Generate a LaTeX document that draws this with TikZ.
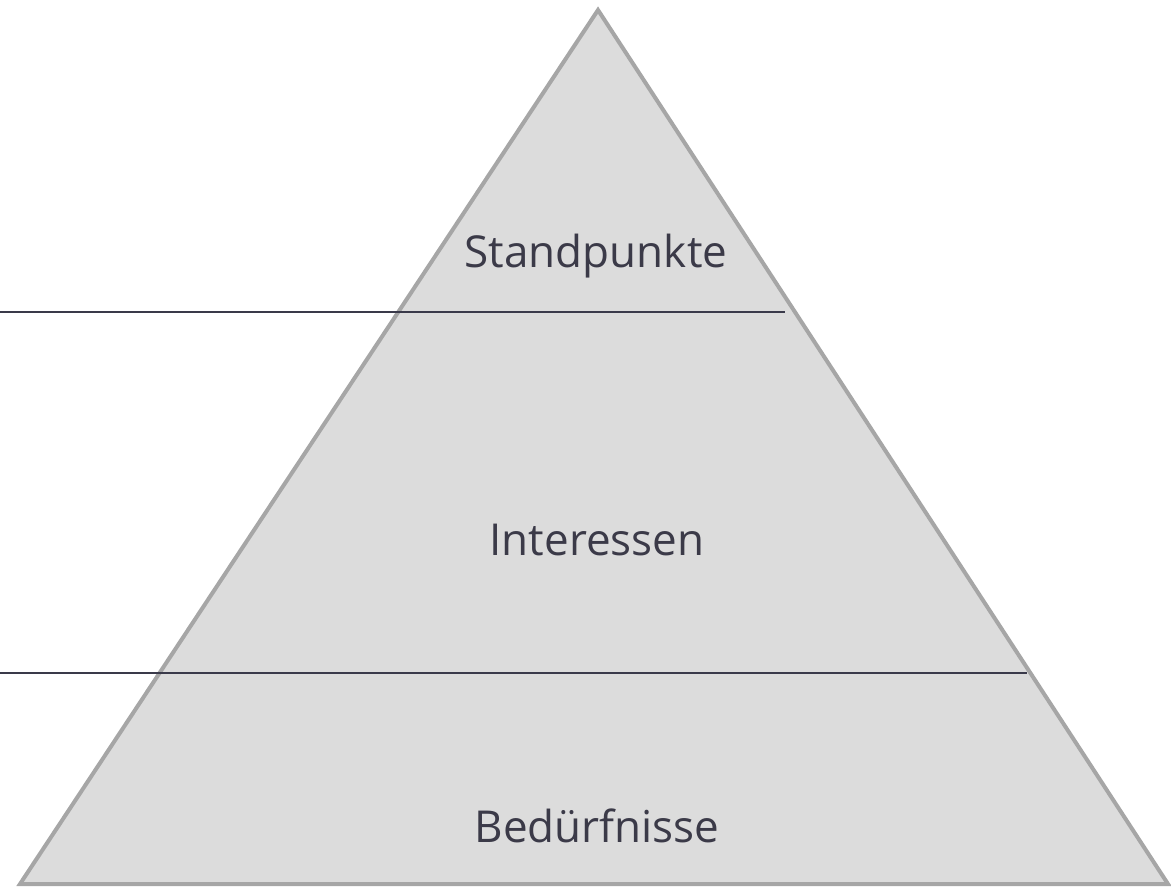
\documentclass[tikz,border=0pt]{standalone}
\usepackage{fontspec}
\setmainfont{Open Sans}
\definecolor{layerfill}{HTML}{DCDCDC}
\definecolor{layeredge}{HTML}{A6A6A6}
\definecolor{divider}{HTML}{3A3A4A}
\definecolor{labeltext}{HTML}{3B3A48}
\tikzset{
  layerlabel/.style={anchor=base, text=labeltext, font=\fontsize{44}{50}\selectfont, inner sep=0pt},
  dividerline/.style={draw=divider, line width=2pt},
}
\begin{document}
\begin{tikzpicture}[x=1pt,y=-1pt]
  \useasboundingbox (0,0) rectangle (1171,887);
  % pyramid body
  \coordinate (apex) at (598,10);
  \coordinate (bl) at (20,884);
  \coordinate (br) at (1168,884);
  \filldraw[fill=layerfill, draw=layeredge, line width=4pt, line join=miter]
    (apex) -- (br) -- (bl) -- cycle;
  % layer dividers
  \coordinate (d1a) at (0,312);
  \coordinate (d1b) at (785,312);
  \coordinate (d2a) at (0,673);
  \coordinate (d2b) at (1027,673);
  \draw[dividerline] (d1a) -- (d1b);
  \draw[dividerline] (d2a) -- (d2b);
  % layer labels
  \node[layerlabel] (top) at (596,267) {Standpunkte};
  \node[layerlabel] (mid) at (597,555) {Interessen};
  \node[layerlabel] (bot) at (597,842) {Bedürfnisse};
\end{tikzpicture}
\end{document}
